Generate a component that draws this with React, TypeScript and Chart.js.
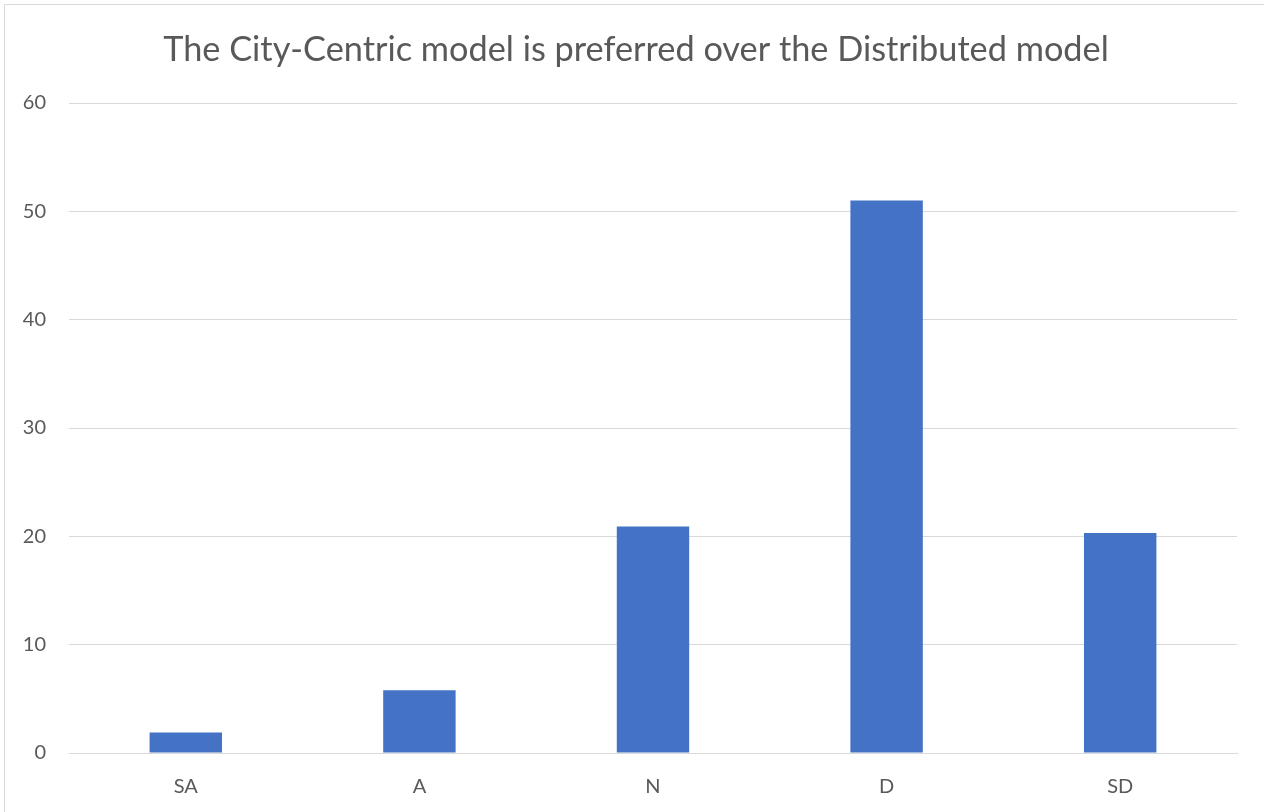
import React, { useEffect, useRef } from "react";
import { Chart, registerables } from "chart.js";

Chart.register(...registerables);

const categories = ["SA", "A", "N", "D", "SD"];
const values = [1.9, 5.8, 20.9, 51.0, 20.3];
const yTicks = [0, 10, 20, 30, 40, 50, 60];
const titleText = "The City-Centric model is preferred over the Distributed model";

const W = 1264;
const H = 812;

const frame = {
  id: "frame",
  beforeDraw(chart: any) {
    const ctx = chart.ctx;
    ctx.save();
    ctx.fillStyle = "#ffffff";
    ctx.fillRect(0, 0, W, H);
    ctx.strokeStyle = "#d9d9d9";
    ctx.lineWidth = 1;
    ctx.beginPath();
    ctx.moveTo(4.5, H);
    ctx.lineTo(4.5, 4.5);
    ctx.lineTo(W, 4.5);
    ctx.stroke();
    ctx.fillStyle = "#595959";
    ctx.font = "normal 34.3px Lato";
    ctx.textAlign = "center";
    ctx.textBaseline = "alphabetic";
    ctx.fillText(titleText, 636, 61);
    ctx.restore();
  },
};

export default function App() {
  const ref = useRef<HTMLCanvasElement>(null);
  useEffect(() => {
    document.body.style.margin = "0";
    const chart = new Chart(ref.current!, {
      type: "bar",
      data: {
        labels: categories,
        datasets: [
          {
            data: values,
            backgroundColor: "#4472C4",
            barPercentage: 0.31,
            categoryPercentage: 1,
          },
        ],
      },
      plugins: [frame],
      options: {
        animation: false,
        responsive: false,
        layout: { padding: { left: 0, right: 27, top: 103, bottom: 0 } },
        plugins: {
          legend: { display: false },
          tooltip: { enabled: false },
          title: { display: false },
        },
        scales: {
          x: {
            grid: { display: false, drawTicks: false },
            border: { display: true, color: "#d9d9d9", width: 1 },
            ticks: {
              color: "#595959",
              font: { family: "Lato", size: 20 },
              padding: 22,
            },
            afterFit(scale: any) {
              scale.height = 59;
            },
          },
          y: {
            min: 0,
            max: 60,
            afterBuildTicks(scale: any) {
              scale.ticks = yTicks.map((v) => ({ value: v }));
            },
            grid: { color: "#d9d9d9", drawTicks: false, lineWidth: 1 },
            border: { display: false },
            ticks: {
              color: "#595959",
              font: { family: "Lato", size: 20 },
              padding: 23,
            },
            afterFit(scale: any) {
              scale.width = 69;
            },
          },
        },
      },
    });
    return () => chart.destroy();
  }, []);
  return (
    <div style={{ position: "fixed", left: 0, top: 0, width: W, height: H }}>
      <canvas ref={ref} width={W} height={H} style={{ width: W, height: H, display: "block" }} />
    </div>
  );
}
